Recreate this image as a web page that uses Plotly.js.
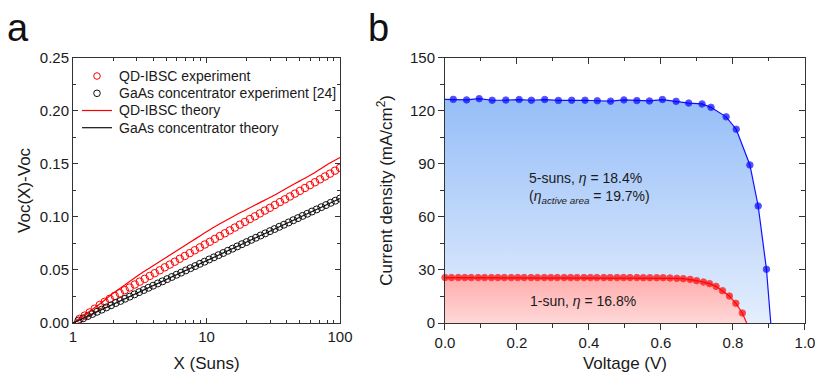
<!DOCTYPE html>
<html>
<head>
<meta charset="utf-8">
<script src="https://cdn.plot.ly/plotly-3.0.1.min.js"></script>
<style>
html,body{margin:0;padding:0;background:#fff;}
#chart{width:815px;height:373px;}
</style>
</head>
<body>
<div id="chart"></div>
<script>
// ---------- Panel a data ----------
const qdExpX = [1.122,1.223,1.334,1.454,1.585,1.728,1.884,2.054,2.239,2.441,2.661,2.901,3.162,3.447,3.758,4.097,4.467,4.870,5.309,5.788,6.310,6.879,7.499,8.175,8.913,9.716,10.59,11.55,12.59,13.73,14.96,16.31,17.78,19.39,21.13,23.04,25.12,27.38,29.85,32.54,35.48,38.68,42.17,45.97,50.12,54.64,59.57,64.94,70.79,77.18,84.14,91.73,100];
const qdExpV = [0.004,0.007,0.010,0.0135,0.017,0.0200,0.0228,0.0256,0.0281,0.0310,0.0335,0.0363,0.0390,0.0416,0.0444,0.0470,0.0497,0.0525,0.0551,0.0578,0.0606,0.0632,0.0659,0.0686,0.0713,0.0740,0.0766,0.0793,0.0820,0.0846,0.0873,0.0900,0.0927,0.0953,0.0980,0.1006,0.1033,0.1060,0.1086,0.1113,0.1140,0.1166,0.1193,0.1220,0.1246,0.1273,0.1300,0.1327,0.1354,0.1381,0.1408,0.1436,0.1463];

const gaasExpX = [1.096,1.189,1.288,1.396,1.514,1.641,1.778,1.928,2.089,2.265,2.455,2.661,2.884,3.126,3.388,3.673,3.981,4.315,4.677,5.070,5.495,5.957,6.457,6.998,7.586,8.222,8.913,9.661,10.47,11.35,12.30,13.34,14.45,15.67,16.98,18.41,19.95,21.63,23.44,25.41,27.54,29.85,32.36,35.08,38.02,41.21,44.67,48.42,52.48,56.89,61.66,66.83,72.44,78.52,85.11,92.26,100];
const gaasExpV = [0.0023,0.0044,0.0065,0.0085,0.0106,0.0126,0.0147,0.0167,0.0188,0.0208,0.0229,0.0249,0.0270,0.0291,0.0311,0.0332,0.0352,0.0373,0.0393,0.0414,0.0434,0.0455,0.0475,0.0496,0.0517,0.0537,0.0558,0.0578,0.0599,0.0619,0.0640,0.0660,0.0681,0.0701,0.0722,0.0743,0.0763,0.0784,0.0804,0.0825,0.0845,0.0866,0.0886,0.0907,0.0927,0.0948,0.0969,0.0989,0.1010,0.1030,0.1051,0.1071,0.1092,0.1112,0.1133,0.1153,0.1174];

const qdThX = [1,1.259,1.585,1.995,2.512,3.162,3.981,5.012,6.310,7.943,10,12.59,15.85,19.95,25.12,31.62,39.81,50.12,63.10,79.43,100];
const qdThV = [0,0.009,0.018,0.028,0.037,0.046,0.054,0.062,0.070,0.078,0.086,0.0935,0.1005,0.107,0.1135,0.120,0.127,0.134,0.141,0.149,0.156];

const gaasThX = [1,10,100];
const gaasThV = [0,0.0587,0.1174];

const legendLabels = ['QD-IBSC experiment','GaAs concentrator experiment [24]','QD-IBSC theory','GaAs concentrator theory'];

// ---------- Panel b data ----------
const v5 = [0,0.023,0.060,0.095,0.131,0.169,0.206,0.240,0.277,0.315,0.352,0.389,0.423,0.460,0.497,0.533,0.568,0.604,0.642,0.677,0.714,0.739,0.781,0.809,0.847,0.870,0.893,0.905];
const j5 = [126.5,126.5,126.2,126.9,126.0,126.1,126.4,126.0,126.4,125.9,126.0,126.0,125.7,125.5,126.2,125.8,125.6,126.4,125.4,124.4,123.9,122.0,116.6,109.6,89.4,66.2,30.4,0];

const v1 = [0,0.018,0.037,0.055,0.073,0.092,0.110,0.129,0.147,0.165,0.184,0.202,0.220,0.239,0.257,0.276,0.294,0.312,0.331,0.349,0.367,0.386,0.404,0.422,0.441,0.459,0.478,0.496,0.514,0.533,0.551,0.569,0.588,0.606,0.625,0.644,0.662,0.681,0.699,0.718,0.735,0.753,0.771,0.790,0.808,0.826,0.838];
const j1 = [25.7,25.7,25.7,25.7,25.7,25.7,25.7,25.7,25.7,25.7,25.7,25.7,25.7,25.7,25.7,25.7,25.7,25.7,25.7,25.7,25.7,25.7,25.7,25.7,25.7,25.7,25.7,25.7,25.7,25.7,25.65,25.65,25.65,25.65,25.47,25.28,25.09,24.7,23.96,23.2,22.26,20.75,18.3,15.28,11.13,5.66,0];

const voltTicks = [0,0.2,0.4,0.6,0.8,1.0];
const voltTickText = ['0.0','0.2','0.4','0.6','0.8','1.0'];
const voltMinor = [0.1,0.3,0.5,0.7,0.9];

const FONT = 'Liberation Sans, Arial, sans-serif';
const TXT = '#1a1a1a';
const AX = '#333333';

const markerSizes5 = v5.map((v,i)=> (i===0 || i===v5.length-1) ? 0 : 6.5);
const markerSizes1 = v1.map((v,i)=> (i===v1.length-1) ? 0 : 6.5);

const traces = [
  {x: qdExpX, y: qdExpV, type:'scatter', mode:'markers', showlegend:false,
   marker:{symbol:'circle-open', size:7.5, color:'#ff0000', line:{width:1}}, xaxis:'x', yaxis:'y'},
  {x: gaasExpX, y: gaasExpV, type:'scatter', mode:'markers', showlegend:false,
   marker:{symbol:'circle-open', size:7, color:'#111111', line:{width:1}}, xaxis:'x', yaxis:'y'},
  {x: qdThX, y: qdThV, type:'scatter', mode:'lines', showlegend:false,
   line:{color:'#ff0000', width:1.2, shape:'spline', smoothing:0.6}, xaxis:'x', yaxis:'y'},
  {x: gaasThX, y: gaasThV, type:'scatter', mode:'lines', showlegend:false,
   line:{color:'#111111', width:1.2}, xaxis:'x', yaxis:'y'},
  {x: v5, y: j5, type:'scatter', mode:'lines+markers', showlegend:false, cliponaxis:false,
   line:{color:'#1010ff', width:1.2}, marker:{color:'#0000ff', size:markerSizes5},
   fill:'tozeroy',
   fillgradient:{type:'vertical', colorscale:[[0,'rgb(228,238,253)'],[1,'rgb(150,190,248)']]},
   xaxis:'x2', yaxis:'y2'},
  {x: v1, y: j1, type:'scatter', mode:'lines+markers', showlegend:false, cliponaxis:false,
   line:{color:'#ff1010', width:1.2}, marker:{color:'#ff0000', size:markerSizes1},
   fill:'tozeroy',
   fillgradient:{type:'vertical', colorscale:[[0,'rgb(255,216,216)'],[1,'rgb(255,172,172)']]},
   xaxis:'x2', yaxis:'y2'},
  {x:[0,1], y:[0,150], type:'scatter', mode:'markers', showlegend:false, hoverinfo:'skip',
   marker:{opacity:0}, xaxis:'x3', yaxis:'y3'}
];

// manual legend (compact rows as in the reference)
const W = 815, H = 373;
const rowsY = [76, 93.3, 110.5, 127.7];
const legShapes = [];
const legAnn = [];
rowsY.forEach((ry, i) => {
  const yp = 1 - ry / H;
  if (i < 2) {
    legShapes.push({type:'circle', xref:'paper', yref:'paper', xsizemode:'pixel', ysizemode:'pixel',
      xanchor:97/W, yanchor:yp, x0:-3.3, x1:3.3, y0:-3.3, y1:3.3,
      line:{color: i===0 ? '#ff0000' : '#111111', width:1}, fillcolor:'rgba(0,0,0,0)'});
  } else {
    legShapes.push({type:'line', xref:'paper', yref:'paper', x0:82/W, x1:112/W, y0:yp, y1:yp,
      line:{color: i===2 ? '#ff0000' : '#111111', width:1.2}});
  }
  legAnn.push({text: legendLabels[i], xref:'paper', yref:'paper', x:117/W, y:yp,
    xanchor:'left', yanchor:'middle', showarrow:false, font:{size:14, color:TXT}});
});

const yDom = [0.134, 0.845];
const layout = {
  width:W, height:H,
  margin:{l:0,r:0,t:0,b:0},
  paper_bgcolor:'#ffffff', plot_bgcolor:'#ffffff',
  font:{family:FONT, color:TXT, size:15},
  showlegend:false,
  xaxis:{type:'log', domain:[0.0896,0.4172], anchor:'y', range:[0,2],
    tickvals:[1,10,100], ticktext:['1','10','100'],
    ticks:'inside', ticklen:5, tickcolor:AX, showline:true, linecolor:AX, linewidth:1, mirror:'ticks',
    showgrid:false, zeroline:false, tickfont:{size:15},
    minor:{tickvals:[2,3,4,5,6,7,8,9,20,30,40,50,60,70,80,90], ticks:'inside', ticklen:3, tickcolor:AX, showgrid:false},
    title:{text:'X (Suns)', font:{size:17}, standoff:14}},
  yaxis:{domain:yDom, anchor:'x', range:[0,0.25], dtick:0.05, tickformat:'.2f',
    ticks:'inside', ticklen:5, tickcolor:AX, showline:true, linecolor:AX, linewidth:1, mirror:'ticks',
    showgrid:false, zeroline:false, tickfont:{size:15},
    minor:{dtick:0.025, ticks:'inside', ticklen:3, tickcolor:AX, showgrid:false},
    title:{text:'Voc(X)-Voc', font:{size:17}, standoff:4}},
  xaxis2:{domain:[0.546,0.9877], anchor:'y2', range:[0,1],
    tickvals:voltTicks, ticktext:voltTickText, ticklabeloverflow:'allow',
    ticks:'outside', ticklen:6, tickcolor:AX, showline:true, linecolor:AX, linewidth:1,
    showgrid:false, zeroline:false, tickfont:{size:15},
    minor:{tickvals:voltMinor, ticks:'outside', ticklen:3.5, tickcolor:AX, showgrid:false},
    title:{text:'Voltage (V)', font:{size:17}, standoff:12}},
  yaxis2:{domain:yDom, anchor:'x2', range:[0,150], dtick:30,
    ticks:'outside', ticklen:6, tickcolor:AX, showline:true, linecolor:AX, linewidth:1,
    showgrid:false, zeroline:false, tickfont:{size:15},
    minor:{dtick:15, ticks:'outside', ticklen:3.5, tickcolor:AX, showgrid:false},
    title:{text:'Current density (mA/cm<sup>2</sup>)', font:{size:17}, standoff:12}},
  xaxis3:{overlaying:'x2', side:'top', anchor:'y2', range:[0,1],
    tickvals:voltTicks,
    ticks:'inside', ticklen:6, tickcolor:AX, showline:true, linecolor:AX, linewidth:1,
    showticklabels:false, showgrid:false, zeroline:false,
    minor:{tickvals:voltMinor, ticks:'inside', ticklen:3.5, tickcolor:AX, showgrid:false}},
  yaxis3:{overlaying:'y2', side:'right', anchor:'x2', range:[0,150], dtick:30,
    ticks:'inside', ticklen:6, tickcolor:AX, showline:true, linecolor:AX, linewidth:1,
    showticklabels:false, showgrid:false, zeroline:false,
    minor:{dtick:15, ticks:'inside', ticklen:3.5, tickcolor:AX, showgrid:false}},
  shapes: legShapes,
  annotations:[
    {text:'a', xref:'paper', yref:'paper', x:0.022, y:0.925, xanchor:'center', yanchor:'middle',
     showarrow:false, font:{size:38, color:'#111'}},
    {text:'b', xref:'paper', yref:'paper', x:0.464, y:0.925, xanchor:'center', yanchor:'middle',
     showarrow:false, font:{size:38, color:'#111'}},
    {text:'5-suns, <i>η</i> = 18.4%', xref:'x2', yref:'y2', x:0.227, y:82.1, xanchor:'left', yanchor:'middle',
     showarrow:false, font:{size:14, color:TXT}},
    {text:'(<i>η<sub>active area</sub></i> = 19.7%)', xref:'x2', yref:'y2', x:0.227, y:71.3, xanchor:'left', yanchor:'middle',
     showarrow:false, font:{size:14, color:TXT}},
    {text:'1-sun, <i>η</i> = 16.8%', xref:'x2', yref:'y2', x:0.230, y:12.5, xanchor:'left', yanchor:'middle',
     showarrow:false, font:{size:14, color:TXT}}
  ].concat(legAnn)
};

Plotly.newPlot('chart', traces, layout, {staticPlot:true, displayModeBar:false});
</script>
</body>
</html>
